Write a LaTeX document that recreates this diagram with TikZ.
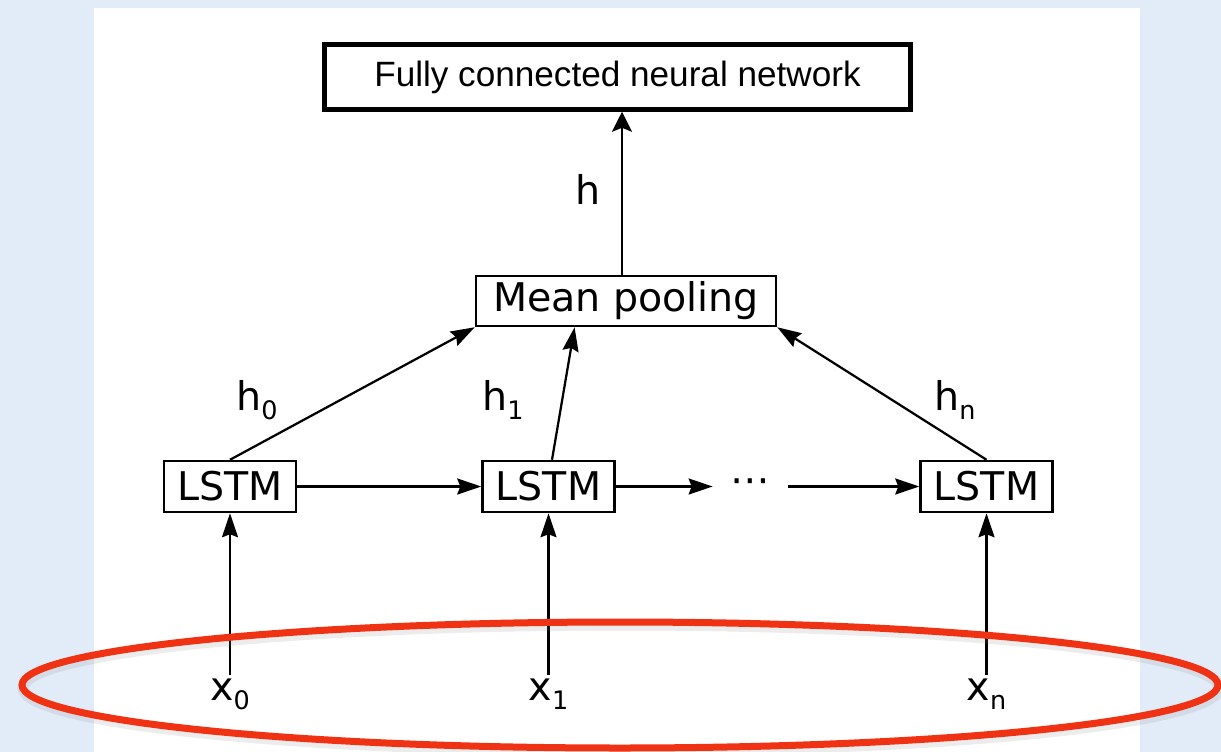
\documentclass[tikz,border=0pt]{standalone}
\usepackage{fontspec}
\setmainfont{DejaVu Sans}
\newfontfamily\fcfont{Liberation Sans}
\usetikzlibrary{arrows.meta,positioning,calc}
\definecolor{pagebg}{HTML}{E1ECF8}
\definecolor{ringred}{HTML}{F03214}
\newcommand{\lowidx}[1]{\raisebox{-5.5pt}{\fontsize{14.5}{14.5}\selectfont #1}}

\begin{document}
\begin{tikzpicture}[
    block/.style={draw, rectangle, line width=0.05cm, minimum width=2.64cm,
                  minimum height=1.02cm, inner sep=0pt, font=\fontsize{22.5}{27}\selectfont},
    fcblock/.style={draw, rectangle, line width=0.09cm, minimum width=11.72cm,
                    minimum height=1.3cm, inner sep=0pt, font=\fcfont\fontsize{20}{24}\selectfont},
    arr/.style={-{Stealth[length=0.48cm, width=0.32cm, inset=0.06cm]}, line width=0.045cm},
    toparr/.style={-{Stealth[length=0.4cm, width=0.4cm, inset=0.08cm]}, line width=0.045cm},
    lbl/.style={inner sep=0pt, font=\fontsize{22.5}{27}\selectfont},
    inlbl/.style={inner sep=0.06cm, anchor=base, font=\fontsize{22.5}{27}\selectfont}
]
\useasboundingbox (0,0) rectangle (24.42,-15.04);

% --- background ---
\fill[pagebg] (0,0) rectangle (24.42,-15.04);
\fill[white] (1.88,-0.16) rectangle (22.8,-15.04);

% --- blocks ---
\node[fcblock] (fc) at (12.35,-1.54) {Fully connected neural network};
\node[block, minimum width=6cm, minimum height=1cm] (pool) at (12.52,-6.02) {Mean pooling};
\node[block] (lstm0) at (4.6,-9.73)  {LSTM};
\node[block] (lstm1) at (10.97,-9.73) {LSTM};
\node[block] (lstmn) at (19.73,-9.73) {LSTM};
\node[lbl, minimum width=1.5cm] (dots) at (15.01,-9.73) {⋯};

% --- inputs ---
\node[inlbl] (x0) at (4.6,-14.0)   {x\lowidx{0}};
\node[inlbl] (x1) at (10.97,-14.0) {x\lowidx{1}};
\node[inlbl] (xn) at (19.73,-14.0) {x\lowidx{n}};

% --- labels ---
\node[lbl] (hlab)  at (11.76,-3.78) {h};
\node[lbl] (h0lab) at (5.14,-8.0)   {h\lowidx{0}};
\node[lbl] (h1lab) at (10.06,-8.0)  {h\lowidx{1}};
\node[lbl] (hnlab) at (19.1,-8.0)   {h\lowidx{n}};

% --- connections ---
\draw[arr] (lstm0) -- (lstm1);
\draw[arr] (lstm1) -- (dots);
\draw[arr] (dots) -- (lstmn);

\draw[arr] (x0) -- (lstm0);
\draw[arr] (x1) -- (lstm1);
\draw[arr] (xn) -- (lstmn);

\coordinate (h1out) at ($(lstm1.north)+(0.07,0)$);
\coordinate (h1in) at ($(pool.south west)!0.33!(pool.south east)$);
\draw[arr] (lstm0.north) -- (pool.south west);
\draw[arr] (h1out) -- (h1in);
\draw[arr] (lstmn.north) -- (pool.south east);

\coordinate (poolout) at ($(pool.north)+(-0.08,0)$);
\draw[toparr] (poolout) -- (poolout |- fc.south);

% --- highlight ---
\draw[gray, opacity=0.15, line width=0.22cm] (12.42,-13.76) ellipse [x radius=11.96cm, y radius=1.26cm];
\draw[ringred, line width=0.14cm] (12.4,-13.7) ellipse [x radius=11.96cm, y radius=1.26cm];

\end{tikzpicture}
\end{document}
